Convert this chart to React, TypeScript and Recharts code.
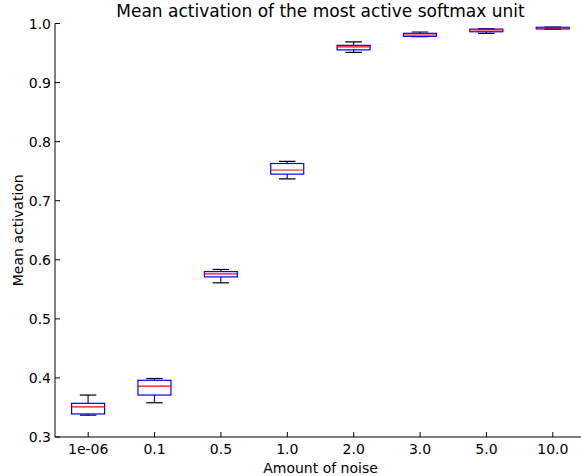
import { ComposedChart, Bar, XAxis, YAxis } from "recharts";

const categories = ["1e-06", "0.1", "0.5", "1.0", "2.0", "3.0", "5.0", "10.0"];
const whiskerLow = [0.337, 0.358, 0.561, 0.737, 0.951, 0.9776, 0.9834, 0.9905];
const quartileLow = [0.339, 0.371, 0.571, 0.745, 0.9554, 0.9783, 0.986, 0.9907];
const medians = [0.351, 0.386, 0.576, 0.752, 0.9605, 0.9805, 0.989, 0.9924];
const quartileHigh = [0.357, 0.396, 0.58, 0.763, 0.963, 0.9834, 0.9905, 0.9936];
const whiskerHigh = [0.371, 0.399, 0.5836, 0.7667, 0.969, 0.9856, 0.991, 0.994];
const yTicks = [0.3, 0.4, 0.5, 0.6, 0.7, 0.8, 0.9, 1.0];

const data = categories.map((noise, i) => ({
  noise,
  range: [whiskerLow[i], whiskerHigh[i]],
  lo: whiskerLow[i],
  q1: quartileLow[i],
  med: medians[i],
  q3: quartileHigh[i],
  hi: whiskerHigh[i],
}));

const FONT = "'DejaVu Sans', sans-serif";

// box drawn inside the range bar, positions derived from the bar's own scale
function BoxShape(props: any) {
  const { x, y, width, height, payload } = props;
  if (!payload) return null;
  const { lo, hi, q1, med, q3 } = payload;
  const pxHi = Math.min(y, y + height);
  const pxLo = Math.max(y, y + height);
  const py = (v: number) => pxLo + ((v - lo) / (hi - lo)) * (pxHi - pxLo);
  const cx = x + width / 2;
  const capHalf = width / 4;
  return (
    <g>
      <line x1={cx} x2={cx} y1={py(hi)} y2={py(q3)} stroke="#0000ff" strokeWidth={1.2} />
      <line x1={cx} x2={cx} y1={py(q1)} y2={py(lo)} stroke="#0000ff" strokeWidth={1.2} />
      <line x1={cx - capHalf} x2={cx + capHalf} y1={py(hi)} y2={py(hi)} stroke="#000" strokeWidth={1.2} />
      <line x1={cx - capHalf} x2={cx + capHalf} y1={py(lo)} y2={py(lo)} stroke="#000" strokeWidth={1.2} />
      <rect x={x} y={py(q3)} width={width} height={py(q1) - py(q3)} fill="none" stroke="#0000ff" strokeWidth={1.2} />
      <line x1={x} x2={x + width} y1={py(med)} y2={py(med)} stroke="#ff0000" strokeWidth={1.2} />
    </g>
  );
}

function BottomTick(props: any) {
  const { x, y, payload } = props;
  return (
    <g>
      <line x1={x} x2={x} y1={y} y2={y - 5} stroke="#000" />
      <text x={x} y={y + 17} textAnchor="middle" fontSize={14} fontFamily={FONT} fill="#000">
        {payload.value}
      </text>
    </g>
  );
}

function TopTick(props: any) {
  const { x, y } = props;
  return <line x1={x} x2={x} y1={y} y2={y + 5} stroke="#000" />;
}

function LeftTick(props: any) {
  const { x, y, payload } = props;
  return (
    <g>
      <line x1={x} x2={x + 5} y1={y} y2={y} stroke="#000" />
      <text x={x - 4} y={y + 5} textAnchor="end" fontSize={14} fontFamily={FONT} fill="#000">
        {payload.value.toFixed(1)}
      </text>
    </g>
  );
}

export default function App() {
  return (
    <div style={{ position: "relative", width: 581, height: 476, background: "#fff" }}>
      <style>{"body{margin:0}"}</style>
      <div
        style={{
          position: "absolute", left: 55, width: 531, top: 1, textAlign: "center",
          fontFamily: FONT, fontSize: 17, color: "#000", lineHeight: "20px",
        }}
      >
        Mean activation of the most active softmax unit
      </div>
      <ComposedChart
        width={581}
        height={476}
        data={data}
        margin={{ top: 23.5, right: -5, bottom: 0, left: 0 }}
        barCategoryGap="25%"
      >
        <XAxis
          dataKey="noise"
          height={39}
          tickSize={0}
          tickMargin={0}
          tick={<BottomTick />}
          axisLine={{ stroke: "#000" }}
          tickLine={false}
          interval={0}
          label={{ value: "Amount of noise", position: "insideBottom", offset: 3, fontSize: 14, fontFamily: FONT, fill: "#000" }}
        />
        <XAxis
          xAxisId="top"
          dataKey="noise"
          orientation="top"
          height={0}
          tickSize={0}
          tickMargin={0}
          tick={<TopTick />}
          axisLine={{ stroke: "#000" }}
          tickLine={false}
          interval={0}
        />
        <YAxis
          width={55}
          domain={[0.3, 1.0]}
          ticks={yTicks}
          type="number"
          allowDataOverflow
          tickSize={0}
          tickMargin={0}
          tick={<LeftTick />}
          axisLine={{ stroke: "#000" }}
          tickLine={false}
          label={{ value: "Mean activation", angle: -90, position: "insideLeft", offset: 18, fontSize: 14, fontFamily: FONT, fill: "#000", style: { textAnchor: "middle" } }}
        />
        <Bar dataKey="range" shape={<BoxShape />} isAnimationActive={false} />
      </ComposedChart>
    </div>
  );
}
